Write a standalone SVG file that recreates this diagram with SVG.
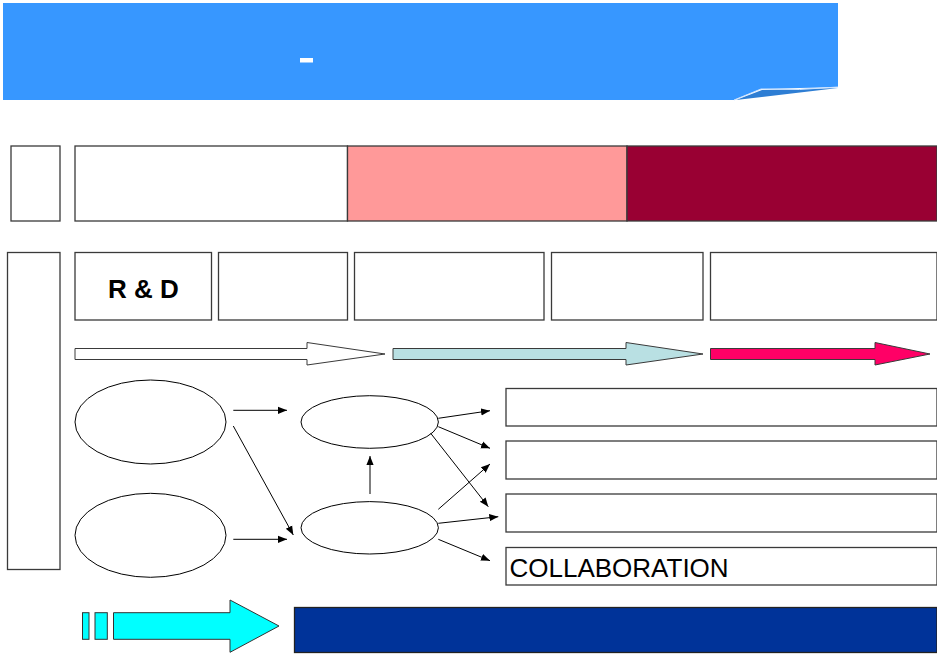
<svg xmlns="http://www.w3.org/2000/svg" width="937" height="656" viewBox="0 0 937 656">
<defs>
<style>
.box{fill:#fff;stroke:#3a3a3a;stroke-width:1.3}
.ell{fill:#fff;stroke:#000;stroke-width:1}
.con{stroke:#000;stroke-width:1;fill:none;marker-end:url(#ah)}
.lbl{font-family:"Liberation Sans",Arial,sans-serif;fill:#000}
</style>
<marker id="ah" viewBox="0 0 10 10" refX="10" refY="5" markerWidth="9" markerHeight="9" markerUnits="userSpaceOnUse" orient="auto">
<path d="M0,1 L10,5 L0,9 Z" fill="#000"/>
</marker>
</defs>
<rect width="937" height="656" fill="#fff"/>
<g id="header">
<polygon points="3,3 838,3 838,87 761,89 734,100 3,100" fill="#3797FF"/>
<polygon points="736,100 762,90 838,88" fill="#2E7ED4"/>
<path d="M734,100 L761,89 Q800,91 838,87" fill="none" stroke="#cfe4ff" stroke-width="1"/>
<rect x="300" y="58" width="13" height="4.5" fill="#fff"/>
</g>
<g id="row1-label"><rect class="box" x="11" y="146" width="49" height="75"/></g>
<g id="row1-a"><rect class="box" x="75" y="146" width="272.5" height="75"/></g>
<g id="row1-b"><rect x="347.5" y="146" width="279.5" height="75" fill="#FF9999" stroke="#3a3a3a" stroke-width="1.3"/></g>
<g id="row1-c"><rect x="627" y="146" width="310" height="75" fill="#990033" stroke="#3a3a3a" stroke-width="1.3"/></g>
<g id="left-tall"><rect class="box" x="7.5" y="252.5" width="52.5" height="317"/></g>
<g id="rd"><rect class="box" x="75" y="252.5" width="136.5" height="67.5"/>
<text class="lbl" x="143.3" y="298" font-size="26" font-weight="bold" text-anchor="middle">R &amp; D</text></g>
<g id="box2"><rect class="box" x="218.5" y="252.5" width="129" height="67.5"/></g>
<g id="box3"><rect class="box" x="354.5" y="252.5" width="189.5" height="67.5"/></g>
<g id="box4"><rect class="box" x="551.5" y="252.5" width="151.5" height="67.5"/></g>
<g id="box5"><rect class="box" x="710.5" y="252.5" width="226.5" height="67.5"/></g>
<g id="phase-arrow1"><polygon points="75,348.5 307,348.5 307,342.5 385,354 307,365 307,359.5 75,359.5" fill="#fff" stroke="#3a3a3a" stroke-width="1"/></g>
<g id="phase-arrow2"><polygon points="393,348.5 626,348.5 626,342.5 703,354 626,365 626,359.5 393,359.5" fill="#B9E0E3" stroke="#3a3a3a" stroke-width="1"/></g>
<g id="phase-arrow3"><polygon points="710.5,348.5 875,348.5 875,342.5 930,354 875,365 875,359.5 710.5,359.5" fill="#FF0066" stroke="#3a3a3a" stroke-width="1"/></g>
<g id="ell1"><ellipse class="ell" cx="150.5" cy="422" rx="75.5" ry="42"/></g>
<g id="ell2"><ellipse class="ell" cx="150.5" cy="535.3" rx="75.5" ry="42"/></g>
<g id="ell3"><ellipse class="ell" cx="369.7" cy="422" rx="68.7" ry="26.3"/></g>
<g id="ell4"><ellipse class="ell" cx="369.7" cy="527.8" rx="68.7" ry="26.2"/></g>
<g id="out1"><rect class="box" x="506" y="388.5" width="431" height="37.5"/></g>
<g id="out2"><rect class="box" x="506" y="441" width="431" height="38"/></g>
<g id="out3"><rect class="box" x="506" y="494" width="431" height="38"/></g>
<g id="out4"><rect class="box" x="506" y="547.5" width="431" height="37.5"/>
<text class="lbl" x="509.5" y="576.5" font-size="26">COLLABORATION</text></g>
<g id="connectors">
<line class="con" x1="233.3" y1="410.3" x2="287" y2="410.3"/>
<line class="con" x1="233.3" y1="426" x2="293.3" y2="535"/>
<line class="con" x1="233.3" y1="539.3" x2="287" y2="539.3"/>
<line class="con" x1="370" y1="494" x2="370" y2="456"/>
<line class="con" x1="438.3" y1="418.3" x2="490" y2="410.7"/>
<line class="con" x1="438.3" y1="426.7" x2="490" y2="448.3"/>
<line class="con" x1="430.7" y1="433.3" x2="488.3" y2="506.7"/>
<line class="con" x1="438.3" y1="509.3" x2="490" y2="464"/>
<line class="con" x1="438.3" y1="523.3" x2="498.3" y2="516.7"/>
<line class="con" x1="438.3" y1="539.3" x2="490" y2="560.7"/>
</g>
<g id="bottom-arrow">
<rect x="82.5" y="612.7" width="6.5" height="26.6" fill="#00FFFF" stroke="#333" stroke-width="1"/>
<rect x="95" y="612.7" width="12.3" height="26.6" fill="#00FFFF" stroke="#333" stroke-width="1"/>
<polygon points="113.5,612.7 230,612.7 230,600 279,626 230,652.3 230,639.3 113.5,639.3" fill="#00FFFF" stroke="#333" stroke-width="1"/>
</g>
<g id="bottom-bar"><rect x="294.5" y="607.5" width="642.5" height="45" fill="#003399" stroke="#222" stroke-width="1.3"/></g>
</svg>
